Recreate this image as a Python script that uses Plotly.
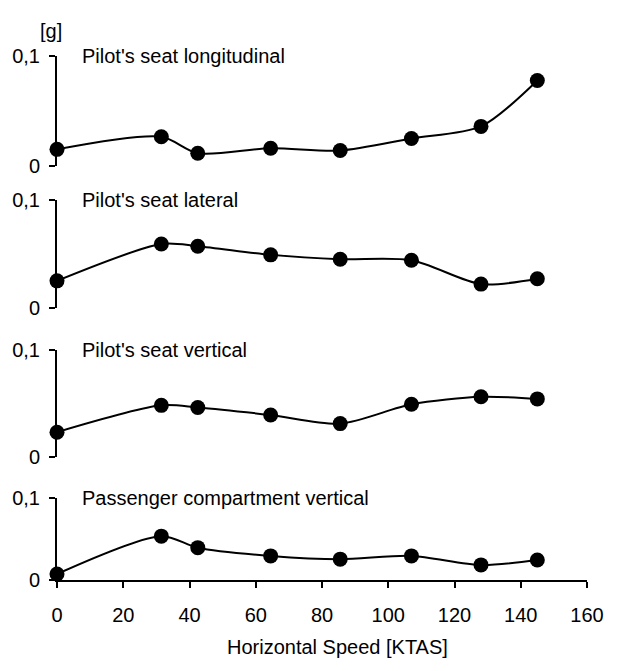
import plotly.graph_objects as go

# ---- data ----
speeds = [0, 31.5, 42.5, 64.5, 85.5, 107, 128, 145]
titles = ["Pilot's seat longitudinal", "Pilot's seat lateral",
          "Pilot's seat vertical", "Passenger compartment vertical"]
seat_long = [0.015, 0.0265, 0.0115, 0.016, 0.014, 0.025, 0.036, 0.078]
seat_lat = [0.025, 0.059, 0.057, 0.049, 0.045, 0.044, 0.022, 0.027]
seat_vert = [0.023, 0.048, 0.046, 0.039, 0.031, 0.049, 0.056, 0.054]
pass_vert = [0.007, 0.053, 0.039, 0.029, 0.025, 0.029, 0.018, 0.024]
series = [seat_long, seat_lat, seat_vert, pass_vert]
y_tickvals = [0, 0.1]
y_ticktext = ["0", "0,1"]
x_tickvals = [0, 20, 40, 60, 80, 100, 120, 140, 160]

W, H = 617, 671
FONT = "Liberation Sans, Arial, sans-serif"
FS = 20
# pixel positions (top = 0.1 level, bottom = 0 level)
panels_px = [(47, 160), (195, 307), (350, 461), (503, 588)]

fig = go.Figure()
layout = dict(
    width=W, height=H,
    margin=dict(l=57, r=30, t=0, b=0),
    paper_bgcolor="white", plot_bgcolor="white",
    showlegend=False,
    font=dict(family=FONT, size=FS, color="black"),
)
annotations = []
for i, (vals, title) in enumerate(zip(series, titles)):
    k = "" if i == 0 else str(i + 1)
    top, bot = panels_px[i]
    fig.add_trace(go.Scatter(
        x=speeds, y=vals, mode="lines+markers",
        xaxis="x" + k, yaxis="y" + k,
        line=dict(color="black", width=2, shape="spline", smoothing=0.8),
        marker=dict(color="black", size=15),
        cliponaxis=False,
    ))
    last = (i == 3)
    layout["xaxis" + k] = dict(
        domain=[0, 1], range=[0, 160], anchor="y" + k,
        showline=last, linecolor="black", linewidth=2,
        ticks="outside" if last else "", ticklen=6, tickwidth=2, tickcolor="black",
        tickvals=x_tickvals, showticklabels=last,
        ticklabelstandoff=10,
        showgrid=False, zeroline=False, fixedrange=True,
        tickfont=dict(family=FONT, size=FS, color="black"),
    )
    layout["yaxis" + k] = dict(
        domain=[1 - bot / H, 1 - top / H], range=[0, 0.1], anchor="x" + k,
        showline=True, linecolor="black", linewidth=2,
        ticks="outside", ticklen=6, tickwidth=2, tickcolor="black",
        tickvals=y_tickvals, ticktext=y_ticktext,
        ticklabelstandoff=5,
        showgrid=False, zeroline=False, fixedrange=True,
        tickfont=dict(family=FONT, size=FS, color="black"),
    )
    annotations.append(dict(
        text=title, xref="x" + k, yref="y" + k, x=7, y=0.1,
        xanchor="left", yanchor="middle", showarrow=False,
        font=dict(family=FONT, size=FS, color="black"),
    ))

annotations.append(dict(text="[g]", xref="paper", yref="paper",
                        x=(51 - 57) / 530, y=1 - 21 / H, xanchor="center", yanchor="middle",
                        showarrow=False, font=dict(family=FONT, size=FS, color="black")))
annotations.append(dict(text="Horizontal Speed [KTAS]", xref="paper", yref="paper",
                        x=(337 - 57) / 530, y=0, xanchor="center", yanchor="bottom",
                        showarrow=False, font=dict(family=FONT, size=FS, color="black")))
layout["annotations"] = annotations
fig.update_layout(**layout)
fig.write_html("out.html")
